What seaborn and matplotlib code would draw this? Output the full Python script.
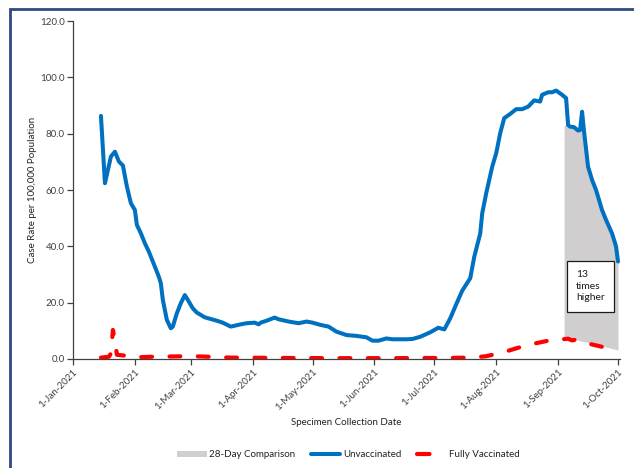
import pandas as pd
import matplotlib
matplotlib.use("Agg")
import matplotlib.pyplot as plt
import matplotlib.dates as mdates
from matplotlib.patches import Patch, Rectangle
from matplotlib.lines import Line2D
import seaborn as sns

# Unvaccinated case rate (per 100,000)
unvax_dates = [
    "2021-01-15", "2021-01-17", "2021-01-20", "2021-01-22", "2021-01-24", "2021-01-26",
    "2021-01-28", "2021-01-30", "2021-02-01", "2021-02-02", "2021-02-04", "2021-02-06",
    "2021-02-08", "2021-02-11", "2021-02-13", "2021-02-14", "2021-02-15", "2021-02-17",
    "2021-02-19", "2021-02-20", "2021-02-22", "2021-02-24", "2021-02-26", "2021-02-27",
    "2021-03-02", "2021-03-04", "2021-03-08", "2021-03-14", "2021-03-17", "2021-03-21",
    "2021-03-26", "2021-03-29", "2021-04-02", "2021-04-04", "2021-04-05", "2021-04-08",
    "2021-04-12", "2021-04-14", "2021-04-19", "2021-04-24", "2021-04-28", "2021-05-01",
    "2021-05-05", "2021-05-09", "2021-05-13", "2021-05-18", "2021-05-23", "2021-05-28",
    "2021-05-31", "2021-06-03", "2021-06-07", "2021-06-10", "2021-06-17", "2021-06-20",
    "2021-06-24", "2021-06-29", "2021-07-03", "2021-07-06", "2021-07-09", "2021-07-12",
    "2021-07-15", "2021-07-19", "2021-07-21", "2021-07-24", "2021-07-25", "2021-07-27",
    "2021-07-30", "2021-08-01", "2021-08-03", "2021-08-05", "2021-08-08", "2021-08-11",
    "2021-08-14", "2021-08-17", "2021-08-20", "2021-08-23", "2021-08-24", "2021-08-27",
    "2021-08-29", "2021-08-31", "2021-09-03", "2021-09-05", "2021-09-06", "2021-09-07",
    "2021-09-09", "2021-09-11", "2021-09-12", "2021-09-13", "2021-09-14", "2021-09-16",
    "2021-09-18", "2021-09-20", "2021-09-23", "2021-09-25", "2021-09-28", "2021-09-30",
    "2021-10-01",
]
unvax_rate = [
    86.3, 62.4, 71.9, 73.6, 70.1, 68.7,
    61.2, 55.3, 52.9, 47.6, 44.6, 41.1,
    38.1, 32.8, 29.2, 26.9, 21.0, 13.9,
    10.9, 11.5, 16.2, 19.8, 22.7, 21.6,
    18.0, 16.5, 14.8, 13.6, 12.9, 11.5,
    12.3, 12.7, 12.9, 12.3, 12.9, 13.6,
    14.7, 14.1, 13.3, 12.7, 13.3, 12.9,
    12.1, 11.5, 9.7, 8.5, 8.2, 7.7,
    6.5, 6.5, 7.3, 7.0, 7.0, 7.1,
    7.9, 9.5, 11.1, 10.5, 14.5, 19.5,
    24.3, 28.7, 36.3, 44.6, 51.8, 58.9,
    68.3, 73.1, 80.2, 85.5, 87.0, 88.7,
    88.7, 89.6, 91.8, 91.4, 93.8, 94.7,
    94.7, 95.3, 93.8, 92.6, 83.1, 82.5,
    82.3, 81.1, 81.3, 87.8, 80.7, 68.3,
    63.6, 60.0, 52.9, 49.4, 44.6, 40.0,
    34.6,
]

# Fully vaccinated case rate
vax_dates = [
    "2021-01-15", "2021-01-19", "2021-01-20", "2021-01-21", "2021-01-22", "2021-01-23",
    "2021-01-27", "2021-02-01", "2021-02-10", "2021-02-20", "2021-03-01", "2021-03-10",
    "2021-03-20", "2021-04-10", "2021-05-10", "2021-06-10", "2021-07-10", "2021-07-20",
    "2021-07-27", "2021-08-01", "2021-08-06", "2021-08-12", "2021-08-19", "2021-08-27",
    "2021-09-03", "2021-09-06", "2021-09-08", "2021-09-10", "2021-09-16", "2021-09-22",
    "2021-09-26", "2021-10-01",
]
vax_rate = [
    0.5, 0.8, 2.0, 10.3, 6.7, 1.5,
    1.2, 0.6, 0.8, 0.9, 1.0, 0.8,
    0.5, 0.4, 0.3, 0.3, 0.4, 0.5,
    1.0, 1.8, 2.7, 4.0, 5.3, 6.5,
    7.0, 7.2, 6.6, 6.9, 5.5, 4.5,
    3.8, 3.3,
]

# 28-day comparison band
comp_dates = [
    "2021-09-04", "2021-09-06", "2021-09-07", "2021-09-09", "2021-09-11", "2021-09-12",
    "2021-09-13", "2021-09-14", "2021-09-16", "2021-09-18", "2021-09-20", "2021-09-23",
    "2021-09-25", "2021-09-28", "2021-09-30", "2021-10-01",
]
comp_high = [
    83.1, 83.1, 82.5, 82.3, 81.1, 81.3,
    87.8, 80.7, 68.3, 63.6, 60.0, 52.9,
    49.4, 44.6, 40.0, 34.6,
]
comp_low = [
    7.9, 7.6, 7.4, 7.0, 6.7, 6.5,
    6.3, 6.2, 5.8, 5.5, 5.1, 4.6,
    4.3, 3.7, 3.4, 3.2,
]

month_ticks = ["2021-01-01", "2021-02-01", "2021-03-01", "2021-04-01", "2021-05-01",
               "2021-06-01", "2021-07-01", "2021-08-01", "2021-09-01", "2021-10-01"]

blue = "#0070C0"
red = "#FF0000"
grey = "#D0CECE"
ink = "#404040"

sns.set_style("white")
plt.rcParams['font.family'] = ['Lato', 'DejaVu Sans']

df_u = pd.DataFrame({"date": pd.to_datetime(unvax_dates), "rate": unvax_rate})
df_v = pd.DataFrame({"date": pd.to_datetime(vax_dates), "rate": vax_rate})
df_c = pd.DataFrame({"date": pd.to_datetime(comp_dates), "hi": comp_high, "lo": comp_low})

fig = plt.figure(figsize=(6.34, 4.68), dpi=100)
ax = fig.add_axes([73 / 634, 109 / 468, 547 / 634, 338 / 468])

ax.fill_between(df_c["date"], df_c["lo"], df_c["hi"], color=grey, lw=0, zorder=1)
sns.lineplot(data=df_u, x="date", y="rate", ax=ax, color=blue, lw=2.9, zorder=3)
sns.lineplot(data=df_v, x="date", y="rate", ax=ax, color=red, lw=3.0,
             linestyle=(0, (2.6, 4.2)), dash_capstyle="round", zorder=4)

ax.text(pd.Timestamp("2021-09-10"), 25.8, "13\ntimes\nhigher", fontsize=7.5,
        ha="left", va="center", color="#1a1a1a", linespacing=1.35, zorder=6,
        bbox=dict(boxstyle="square,pad=0.9", facecolor="white", edgecolor="#1a1a1a", lw=0.9))

ax.set_ylim(0, 120)
ax.set_yticks([0, 20, 40, 60, 80, 100, 120])
ax.set_yticklabels([f"{v:.1f}" for v in [0, 20, 40, 60, 80, 100, 120]])
ax.set_xlim(pd.Timestamp("2021-01-01"), pd.Timestamp("2021-10-02"))
ax.set_xticks(pd.to_datetime(month_ticks))
ax.xaxis.set_major_formatter(mdates.DateFormatter("%-d-%b-%Y"))
for lbl in ax.get_xticklabels():
    lbl.set_rotation(45)
    lbl.set_ha("right")
    lbl.set_rotation_mode("anchor")

ax.tick_params(axis="both", labelsize=7, colors=ink, length=4, width=0.9,
               direction="out", bottom=True, left=True, pad=2)
for side in ["top", "right"]:
    ax.spines[side].set_visible(False)
for side in ["left", "bottom"]:
    ax.spines[side].set_color(ink)
    ax.spines[side].set_linewidth(0.9)

ax.set_xlabel("Specimen Collection Date", fontsize=7, color="#222222", labelpad=4)
ax.set_ylabel("Case Rate per 100,000 Population", fontsize=7, color="#222222", labelpad=2)

handles = [
    Patch(facecolor=grey, edgecolor="none"),
    Line2D([0], [0], color=blue, lw=2.9),
    Line2D([0], [0], color=red, lw=3.0, linestyle=(0, (3.0, 20)), dash_capstyle="round"),
]
fig.legend(handles, ["28-Day Comparison", "Unvaccinated", "Fully Vaccinated"],
           loc="center", bbox_to_anchor=(0.55, 0.028), ncol=3, frameon=False,
           fontsize=7, handlelength=3, handleheight=0.5, handletextpad=0.3,
           columnspacing=1.6, labelcolor="#222222")

# dark blue frame, cropped at right and bottom like the source image
fig.patches.append(Rectangle((10 / 634, -0.05), 1.2, (468 - 9) / 468 + 0.05,
                             transform=fig.transFigure, fill=False,
                             edgecolor="#2E4A7E", lw=2.0, clip_on=False))

fig.savefig("out.png", dpi=100)
